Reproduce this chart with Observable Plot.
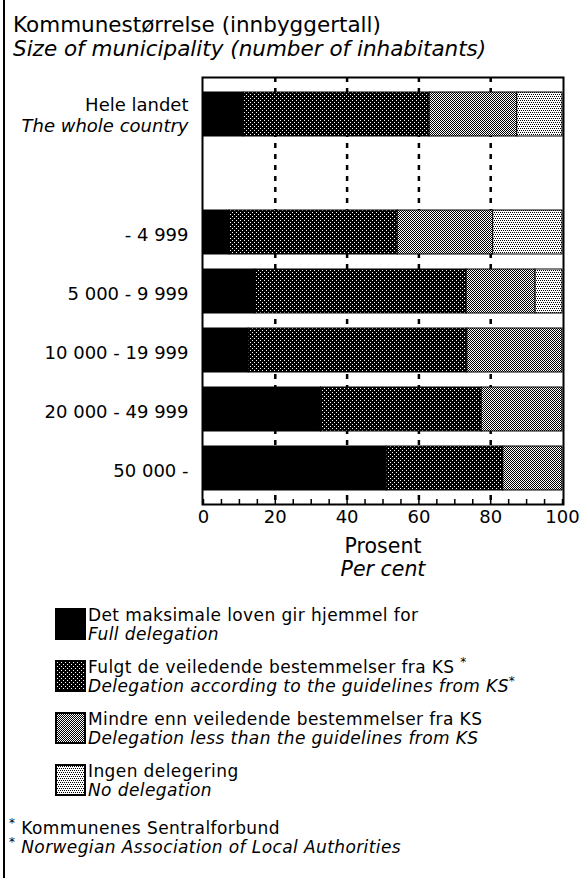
<!DOCTYPE html>
<html>
<head>
<meta charset="utf-8">
<script src="https://cdn.jsdelivr.net/npm/d3@7"></script>
<script src="https://cdn.jsdelivr.net/npm/@observablehq/plot@0.6"></script>
<style>
  body { margin: 0; background: #fff; color: #000; font-family: "DejaVu Sans", sans-serif; }
  #page { position: relative; width: 580px; height: 878px; overflow: hidden; background: #fff; }
  .t { position: absolute; white-space: nowrap; line-height: 1; }
  .lg { font-size: 17px; letter-spacing: 0.4px; }
  .it { font-style: italic; }
  .sup { font-size: 12px; position: relative; top: -7px; }
  #border { position: absolute; left: 3px; top: 0; width: 2px; height: 878px; background: #000; z-index: 10; }
  #chart { position: absolute; left: 0; top: 60px; }
  .sw { position: absolute; }
</style>
</head>
<body>
<div id="page">
  <div id="border"></div>
  <div class="t" style="left:13px; top:14px; font-size:21.5px;" id="title"></div>
  <div class="t it" style="left:13px; top:38px; font-size:21.5px;" id="subtitle"></div>
  <div id="chart"></div>
  <div id="legend"></div>
  <div id="notes"></div>
</div>
<script>
// ---- data ----
const titleNo = "Kommunestørrelse (innbyggertall)";
const titleEn = "Size of municipality (number of inhabitants)";
const categories = ["Hele landet", "- 4 999", "5 000 - 9 999", "10 000 - 19 999", "20 000 - 49 999", "50 000 -"];
const categoriesEn = ["The whole country", "", "", "", "", ""];
const spacer = " ";
const seriesNo = ["Det maksimale loven gir hjemmel for", "Fulgt de veiledende bestemmelser fra KS", "Mindre enn veiledende bestemmelser fra KS", "Ingen delegering"];
const seriesEn = ["Full delegation", "Delegation according to the guidelines from KS", "Delegation less than the guidelines from KS", "No delegation"];
const seriesStar = [false, true, false, false];
const fullDelegation = [11.2, 7.3, 14.4, 12.6, 32.7, 51.0];
const guidelineDelegation = [51.8, 46.8, 58.9, 60.9, 44.8, 32.5];
const lessDelegation = [24.4, 26.6, 19.2, 26.5, 22.5, 16.5];
const noDelegation = [12.6, 19.3, 7.5, 0, 0, 0];
const xTicks = [0, 20, 40, 60, 80, 100];
const gridTicks = [20, 40, 60, 80];
const minorTicks = [0, 5, 10, 15, 20, 25, 30, 35, 40, 45, 50, 55, 60, 65, 70, 75, 80, 85, 90, 95, 100];
const axisLabelNo = "Prosent";
const axisLabelEn = "Per cent";
const notesNo = "Kommunenes Sentralforbund";
const notesEn = "Norwegian Association of Local Authorities";

// ---- build ----
const values = [fullDelegation, guidelineDelegation, lessDelegation, noDelegation];
const fills = ["#000", "url(#pDark)", "url(#pMed)", "url(#pLight)"];
const rows = [];
categories.forEach((c, i) => seriesNo.forEach((s, j) => {
  if (values[j][i] > 0) rows.push({cat: c, series: s, value: values[j][i]});
}));
const yDomain = [categories[0], spacer, ...categories.slice(1)];
const labelRows = categories.map((c, i) => ({cat: c, no: c, en: categoriesEn[i]}));

const W = 580, H = 530, ML = 202, MR = 17, MT = 17, MB = 86;

const plot = Plot.plot({
  width: W, height: H,
  marginLeft: ML, marginRight: MR, marginTop: MT, marginBottom: MB,
  style: {fontFamily: "DejaVu Sans", fontSize: "18px", color: "black", background: "transparent", overflow: "visible"},
  x: {domain: [0, 100], inset: 1},
  y: {type: "band", domain: yDomain, paddingInner: 0.26, paddingOuter: 0.22, axis: null},
  color: {type: "ordinal", domain: seriesNo, range: fills},
  marks: [
    Plot.ruleX(gridTicks, {x: d => d, stroke: "black", strokeWidth: 2.5, strokeDasharray: "5,6"}),
    Plot.tickX(minorTicks, {x: d => d, stroke: "black", strokeWidth: 1.5, insetTop: (H - MT - MB) - 5}),
    Plot.barX(rows, Plot.stackX({x: "value", y: "cat", fill: "series", stroke: "black", strokeWidth: 1})),
    Plot.frame({stroke: "black", strokeWidth: 2}),
    Plot.axisX({ticks: xTicks, tickSize: 0, tickPadding: 6, label: null, fontSize: 18}),
    Plot.text(labelRows.slice(0, 1), {y: "cat", text: "no", frameAnchor: "left", textAnchor: "end", dx: -14, dy: -9, fontSize: 18}),
    Plot.text(labelRows.slice(0, 1), {y: "cat", text: "en", frameAnchor: "left", textAnchor: "end", dx: -14, dy: 12, fontSize: 18, fontStyle: "italic"}),
    Plot.text(labelRows.slice(1), {y: "cat", text: "no", frameAnchor: "left", textAnchor: "end", dx: -14, dy: 3, fontSize: 18}),
    Plot.text([axisLabelNo], {text: d => d, frameAnchor: "bottom", dy: 48, fontSize: 20.5, letterSpacing: "0.5px"}),
    Plot.text([axisLabelEn], {text: d => d, frameAnchor: "bottom", dy: 71, fontSize: 20.5, fontStyle: "italic", letterSpacing: "0.5px"})
  ]
});

function addPattern(defs, id, size, bg, fg, cells) {
  const p = defs.append("pattern").attr("id", id).attr("patternUnits", "userSpaceOnUse")
    .attr("width", size).attr("height", size);
  p.append("rect").attr("width", size).attr("height", size).attr("fill", bg);
  cells.forEach(([x, y]) => p.append("rect").attr("x", x).attr("y", y).attr("width", 1).attr("height", 1).attr("fill", fg));
}
const defs = d3.select(plot).insert("defs", ":first-child");
addPattern(defs, "pDark", 4, "#000", "#fff", [[0, 0], [2, 2]]);
addPattern(defs, "pMed", 2, "#fff", "#000", [[0, 0], [1, 1]]);
addPattern(defs, "pLight", 4, "#fff", "#000", [[0, 0], [2, 0], [1, 2], [3, 2]]);

document.getElementById("chart").appendChild(plot);
document.getElementById("title").textContent = titleNo;
document.getElementById("subtitle").textContent = titleEn;

// legend
const legend = document.getElementById("legend");
const legendTop = 608, legendStep = 52;
seriesNo.forEach((s, i) => {
  const top = legendTop + i * legendStep;
  const sw = document.createElementNS("http://www.w3.org/2000/svg", "svg");
  sw.setAttribute("width", 31); sw.setAttribute("height", 32);
  sw.setAttribute("class", "sw");
  sw.style.left = "55px"; sw.style.top = top + "px";
  const r = document.createElementNS("http://www.w3.org/2000/svg", "rect");
  r.setAttribute("x", 1); r.setAttribute("y", 1); r.setAttribute("width", 29); r.setAttribute("height", 30);
  r.setAttribute("fill", fills[i]); r.setAttribute("stroke", "#000"); r.setAttribute("stroke-width", 2);
  sw.appendChild(r);
  legend.appendChild(sw);
  const l1 = document.createElement("div");
  l1.className = "t lg"; l1.style.left = "88px"; l1.style.top = (top - 1) + "px";
  l1.innerHTML = s + (seriesStar[i] ? ' <span class="sup">*</span>' : "");
  legend.appendChild(l1);
  const l2 = document.createElement("div");
  l2.className = "t lg it"; l2.style.left = "88px"; l2.style.top = (top + 18) + "px";
  l2.innerHTML = seriesEn[i] + (seriesStar[i] ? '<span class="sup" style="font-style:normal">*</span>' : "");
  legend.appendChild(l2);
});

// notes
const notes = document.getElementById("notes");
[[notesNo, false, 820], [notesEn, true, 839]].forEach(([txt, it, top]) => {
  const d = document.createElement("div");
  d.className = "t lg" + (it ? " it" : ""); d.style.left = "9px"; d.style.top = top + "px";
  d.innerHTML = '<span class="sup" style="font-style:normal">*</span> ' + txt;
  notes.appendChild(d);
});
</script>
</body>
</html>
